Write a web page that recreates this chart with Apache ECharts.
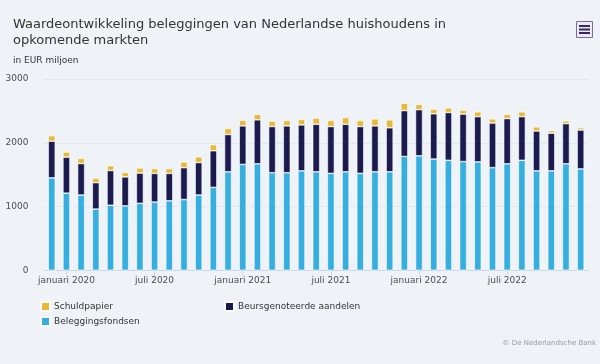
<!DOCTYPE html>
<html>
<head>
<meta charset="utf-8">
<script src="https://cdn.jsdelivr.net/npm/echarts@6/dist/echarts.min.js"></script>
<style>
html,body{margin:0;padding:0;background:#eff3f8;}
#c{width:600px;height:364px;}
</style>
</head>
<body>
<div id="c"></div>
<script>
var months = ["december 2019",
  "januari 2020","februari 2020","maart 2020","april 2020","mei 2020","juni 2020","juli 2020","augustus 2020","september 2020","oktober 2020","november 2020","december 2020",
  "januari 2021","februari 2021","maart 2021","april 2021","mei 2021","juni 2021","juli 2021","augustus 2021","september 2021","oktober 2021","november 2021","december 2021",
  "januari 2022","februari 2022","maart 2022","april 2022","mei 2022","juni 2022","juli 2022","augustus 2022","september 2022","oktober 2022","november 2022","december 2022"];

var beleggingsfondsen = [1450,1210,1180,960,1020,1010,1050,1070,1090,1110,1180,1300,1545,
  1660,1670,1530,1530,1560,1545,1520,1545,1520,1545,1545,1785,
  1795,1745,1725,1705,1700,1610,1670,1725,1560,1560,1670,1590];
var aandelen = [575,565,495,415,545,455,475,450,430,500,510,575,585,
  605,690,725,735,720,745,735,745,735,720,690,720,
  725,710,750,745,710,700,710,685,625,590,630,610];
var schuldpapier = [85,80,80,70,75,70,80,75,75,90,90,95,95,
  85,85,85,85,85,95,95,105,95,110,125,115,
  80,70,70,60,75,65,65,75,65,40,45,35];

var yTicks = [0,1000,2000,3000];

var FONT = "DejaVu Sans";
function showTick(i){ var m = months[i]; return m.indexOf("januari")===0 || m.indexOf("juli")===0; }

var chart = echarts.init(document.getElementById('c'), null, {renderer:'canvas'});
var barStyle = {borderColor:'#ffffff', borderWidth:0.6};
chart.setOption({
  backgroundColor:'#eff3f8',
  animation:false,
  title:[
    {text:'Waardeontwikkeling beleggingen van Nederlandse huishoudens in\nopkomende markten',
     left:13, top:17, padding:0,
     textStyle:{fontFamily:FONT, fontSize:13, fontWeight:'normal', color:'#333333', lineHeight:16}},
    {text:'in EUR miljoen', left:13, top:55, padding:0,
     textStyle:{fontFamily:FONT, fontSize:9, fontWeight:'normal', color:'#333333', lineHeight:12}}
  ],
  legend:[
    {orient:'vertical', left:35, top:296, itemWidth:9, itemHeight:9, itemGap:4, icon:'rect',
     data:['Schuldpapier','Beleggingsfondsen'],
     textStyle:{fontFamily:FONT, fontSize:9, color:'#333333', padding:[0,0,0,-1]}},
    {orient:'vertical', left:219, top:296, itemWidth:9, itemHeight:9, itemGap:4, icon:'rect',
     data:['Beursgenoteerde aandelen'],
     textStyle:{fontFamily:FONT, fontSize:9, color:'#333333', padding:[0,0,0,-1]}}
  ],
  grid:{left:44.4, right:12, top:79, bottom:93.7, containLabel:false},
  xAxis:{
    type:'category', data:months, boundaryGap:true,
    axisLine:{show:true, lineStyle:{color:'#ccd6eb', width:1}},
    axisTick:{show:true, alignWithLabel:true, length:5, interval:function(i){return showTick(i);}, lineStyle:{color:'#ccd6eb'}},
    axisLabel:{interval:function(i){return showTick(i);}, fontFamily:FONT, fontSize:9, color:'#4d4d4d', margin:6},
    splitLine:{show:false}
  },
  yAxis:{
    type:'value', min:yTicks[0], max:yTicks[yTicks.length-1], interval:1000,
    axisLine:{show:false}, axisTick:{show:false},
    axisLabel:{fontFamily:FONT, fontSize:9, color:'#4d4d4d', margin:16, formatter:function(v){return String(v);}},
    splitLine:{lineStyle:{color:'#e3e8ef', width:1}}
  },
  series:[
    {name:'Beleggingsfondsen', type:'bar', stack:'t', data:beleggingsfondsen, barWidth:7, itemStyle:Object.assign({color:'#36afe0'}, barStyle)},
    {name:'Beursgenoteerde aandelen', type:'bar', stack:'t', data:aandelen, barWidth:7, itemStyle:Object.assign({color:'#1c1b4f'}, barStyle)},
    {name:'Schuldpapier', type:'bar', stack:'t', data:schuldpapier, barWidth:7, itemStyle:Object.assign({color:'#e8b937'}, barStyle)}
  ],
  graphic:[
    {type:'rect', shape:{x:576.5, y:21.5, width:16, height:16}, style:{fill:'#e9ecf4', stroke:'#7a6e98', lineWidth:1}},
    {type:'rect', shape:{x:579, y:25, width:11, height:2}, style:{fill:'#3a2566'}},
    {type:'rect', shape:{x:579, y:28.5, width:11, height:2}, style:{fill:'#3a2566'}},
    {type:'rect', shape:{x:579, y:32, width:11, height:2}, style:{fill:'#3a2566'}},
    {type:'text', right:4, top:340, style:{text:'© De Nederlandsche Bank', fontFamily:FONT, fontSize:7, fill:'#999999'}}
  ]
});
</script>
</body>
</html>
